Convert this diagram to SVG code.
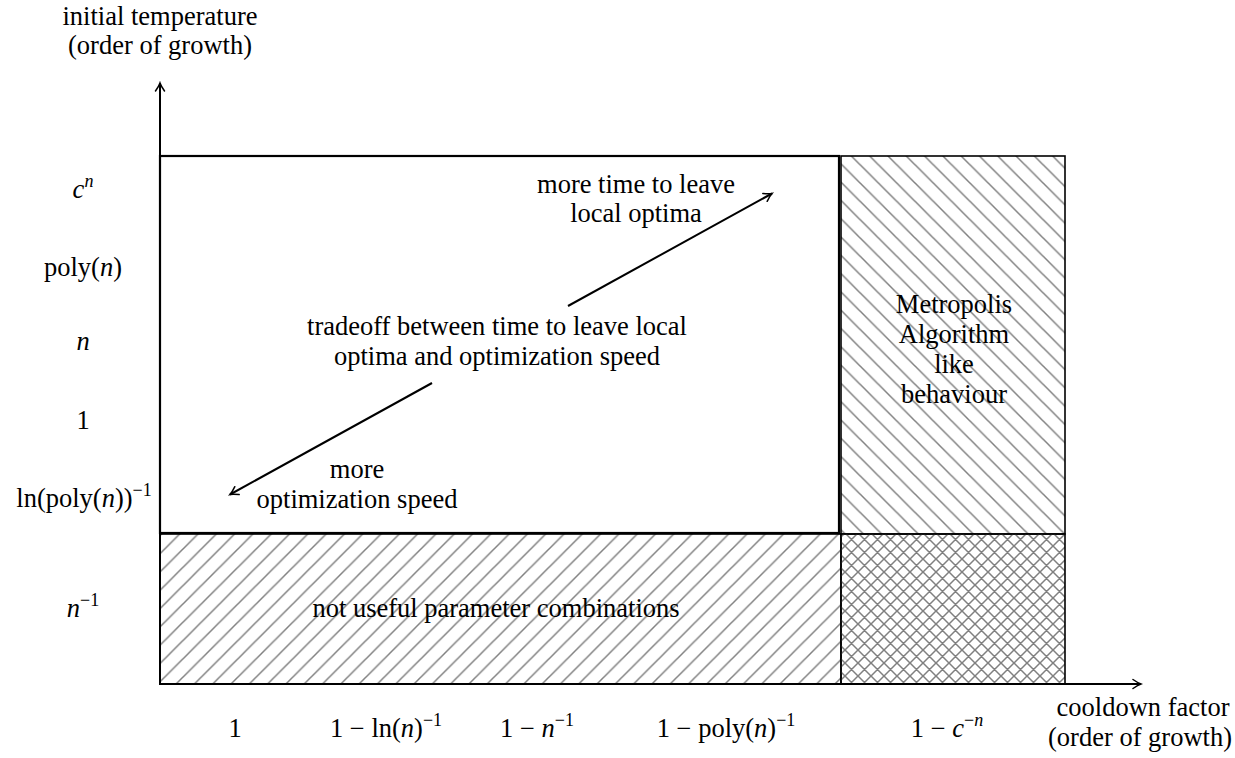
<svg xmlns="http://www.w3.org/2000/svg" width="1235" height="758" viewBox="0 0 1235 758">
<style>
text { font-family: "Liberation Serif", "Times New Roman", serif; font-size: 26.5px; fill: #000; text-anchor: middle; }
.i { font-style: italic; }
.sup { font-size: 18px; }
.frame { stroke: #000; stroke-width: 1.6; }
.axis { stroke: #000; stroke-width: 2; fill: none; }
.hatch { stroke: #808080; stroke-width: 1.5; fill: none; }
</style>
<defs>
<pattern id="ne" x="0" y="0" width="18.3" height="18.3" patternUnits="userSpaceOnUse">
<path d="M0,18.3 L18.3,0 M-4.6,4.6 L4.6,-4.6 M13.7,22.9 L22.9,13.7" class="hatch"/>
</pattern>
<pattern id="nw" x="0" y="0" width="18.3" height="18.3" patternUnits="userSpaceOnUse">
<path d="M0,0 L18.3,18.3 M-4.6,13.7 L4.6,22.9 M13.7,-4.6 L22.9,4.6" class="hatch"/>
</pattern>
<pattern id="cross" x="0" y="0" width="13" height="13" patternUnits="userSpaceOnUse">
<path d="M0,13 L13,0 M-3,3 L3,-3 M10,16 L16,10 M0,0 L13,13 M-3,10 L3,16 M10,-3 L16,3" class="hatch"/>
</pattern>
<marker id="arr" markerWidth="12" markerHeight="12" viewBox="-10 -6 12 12" refX="0" refY="0" orient="auto" markerUnits="userSpaceOnUse">
<path d="M -8 -4.5 Q -3 -1 0 0 Q -3 1 -8 4.5" fill="none" stroke="#000" stroke-width="1.5" stroke-linecap="round"/>
</marker>
</defs>
<rect width="1235" height="758" fill="#fff"/>

<g id="not-useful-region">
<rect x="160" y="534" width="681" height="150" fill="url(#ne)" class="frame"/>
<text x="496" y="617">not useful parameter combinations</text>
</g>
<g id="metropolis-region">
<rect x="841" y="156" width="224" height="378" fill="url(#nw)" class="frame"/>
<text x="954" y="313">Metropolis</text>
<text x="954" y="343">Algorithm</text>
<text x="954" y="373">like</text>
<text x="954" y="403">behaviour</text>
</g>
<g id="cross-region">
<rect x="841" y="534" width="224" height="150" fill="url(#cross)" class="frame"/>
</g>
<g id="tradeoff-region">
<rect x="160" y="156" width="679" height="377" fill="#fff" stroke="#000" stroke-width="2.2"/>
<text x="497" y="335">tradeoff between time to leave local</text>
<text x="497" y="365">optima and optimization speed</text>
<text x="636" y="193">more time to leave</text>
<text x="636" y="222">local optima</text>
<text x="357" y="478">more</text>
<text x="357" y="508">optimization speed</text>
</g>

<g id="connectors">
<line x1="160" y1="685" x2="160" y2="83" class="axis" marker-end="url(#arr)"/>
<line x1="159" y1="684" x2="1141" y2="684" class="axis" marker-end="url(#arr)"/>
<line x1="568" y1="306" x2="772" y2="193.5" class="axis" marker-end="url(#arr)"/>
<line x1="432" y1="383" x2="230" y2="494.5" class="axis" marker-end="url(#arr)"/>
</g>

<g id="y-axis-labels">
<text x="160" y="25">initial temperature</text>
<text x="160" y="54">(order of growth)</text>
<text x="83" y="198"><tspan class="i">c</tspan><tspan class="sup i" dy="-11">n</tspan></text>
<text x="83" y="276">poly(<tspan class="i">n</tspan>)</text>
<text x="83" y="350" class="i">n</text>
<text x="83" y="429">1</text>
<text x="84" y="507">ln(poly(<tspan class="i">n</tspan>))<tspan class="sup" dy="-11">−1</tspan></text>
<text x="83" y="617"><tspan class="i">n</tspan><tspan class="sup" dy="-11">−1</tspan></text>
</g>

<g id="x-axis-labels">
<text x="235" y="737">1</text>
<text x="386" y="737">1 − ln(<tspan class="i">n</tspan>)<tspan class="sup" dy="-11">−1</tspan></text>
<text x="537" y="737">1 − <tspan class="i">n</tspan><tspan class="sup" dy="-11">−1</tspan></text>
<text x="726" y="737">1 − poly(<tspan class="i">n</tspan>)<tspan class="sup" dy="-11">−1</tspan></text>
<text x="947" y="737">1 − <tspan class="i">c</tspan><tspan class="sup" dy="-11">−<tspan class="i">n</tspan></tspan></text>
<text x="1143" y="716">cooldown factor</text>
<text x="1140" y="746">(order of growth)</text>
</g>
</svg>
